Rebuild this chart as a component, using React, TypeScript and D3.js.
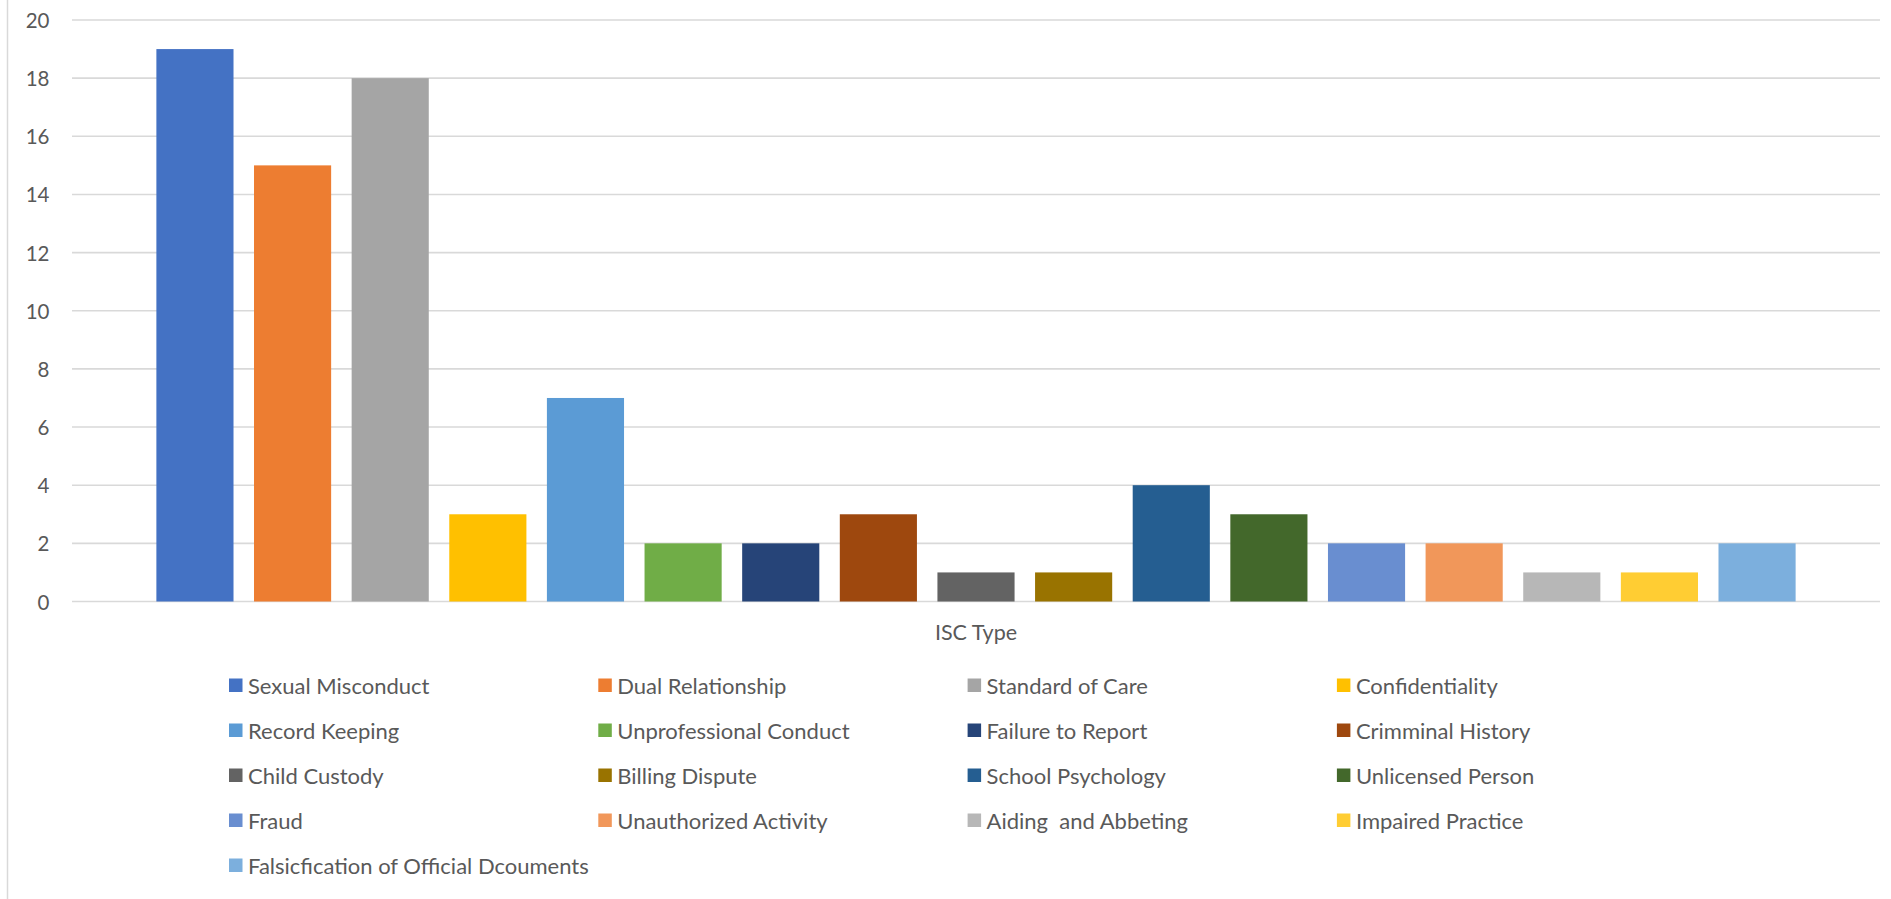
import React from "react";
import * as d3 from "d3";

const categories = ["ISC Type"];
const seriesNames = [
  "Sexual Misconduct",
  "Dual Relationship",
  "Standard of Care",
  "Confidentiality",
  "Record Keeping",
  "Unprofessional Conduct",
  "Failure to Report",
  "Crimminal History",
  "Child Custody",
  "Billing Dispute",
  "School Psychology",
  "Unlicensed Person",
  "Fraud",
  "Unauthorized Activity",
  "Aiding  and Abbeting",
  "Impaired Practice",
  "Falsicfication of Official Dcouments",
];
const seriesValues = [19, 15, 18, 3, 7, 2, 2, 3, 1, 1, 4, 3, 2, 2, 1, 1, 2];
const seriesColors = [
  "#4472C4", "#ED7D31", "#A5A5A5", "#FFC000", "#5B9BD5", "#70AD47",
  "#264478", "#9E480E", "#636363", "#997300", "#255E91", "#43682B",
  "#698ED0", "#F1975A", "#B7B7B7", "#FFCD33", "#7CAFDD",
];
const yTicks = [0, 2, 4, 6, 8, 10, 12, 14, 16, 18, 20];

const W = 1891;
const H = 899;
const plotLeft = 72;
const plotRight = 1880;
const plotTop = 20;
const plotBottom = 601.5;
const FONT = "Lato, Calibri, 'Open Sans', sans-serif";
const TEXT = "#595959";

export default function App() {
  const y = d3.scaleLinear().domain([0, 20]).range([plotBottom, plotTop]);
  const x0 = d3
    .scaleBand<string>()
    .domain(categories)
    .range([plotLeft, plotRight])
    .paddingInner(0.082)
    .paddingOuter(0.041);
  const cat = categories[0];
  const gStart = x0(cat) as number;
  const x1 = d3
    .scaleBand<string>()
    .domain(seriesNames)
    .range([gStart, gStart + x0.bandwidth()])
    .paddingInner(0.21)
    .paddingOuter(0.105);

  const legendX0 = 229;
  const legendColStep = 369.3;
  const legendY0 = 685;
  const legendRowStep = 45;

  return (
    <svg
      width={W}
      height={H}
      style={{ position: "absolute", left: 0, top: 0, background: "#fff" }}
    >
      <rect x={0} y={0} width={W} height={H} fill="#fff" />
      <line x1={7.5} x2={7.5} y1={0} y2={H} stroke="#d9d9d9" strokeWidth={1.5} />
      {yTicks.map((t) => (
        <g key={t}>
          <line
            x1={plotLeft}
            x2={plotRight}
            y1={y(t)}
            y2={y(t)}
            stroke="#d9d9d9"
            strokeWidth={1.6}
          />
          <text
            x={49.5}
            y={y(t)}
            textAnchor="end"
            dominantBaseline="central"
            fontFamily={FONT}
            fontSize={20.5}
            fill={TEXT}
          >
            {t}
          </text>
        </g>
      ))}
      {seriesNames.map((s, i) => (
        <rect
          key={s}
          x={x1(s)}
          y={y(seriesValues[i])}
          width={x1.bandwidth()}
          height={y(0) - y(seriesValues[i])}
          fill={seriesColors[i]}
        />
      ))}
      <text
        x={(x0(cat) as number) + x0.bandwidth() / 2}
        y={632}
        textAnchor="middle"
        dominantBaseline="central"
        fontFamily={FONT}
        fontSize={21.5}
        fill={TEXT}
      >
        {cat}
      </text>
      {seriesNames.map((s, i) => {
        const col = i % 4;
        const row = Math.floor(i / 4);
        const lx = legendX0 + col * legendColStep;
        const ly = legendY0 + row * legendRowStep;
        return (
          <g key={"lg" + s}>
            <rect x={lx} y={ly - 6.5} width={13.5} height={13.5} fill={seriesColors[i]} />
            <text
              x={lx + 19}
              y={ly}
              dominantBaseline="central"
              fontFamily={FONT}
              fontSize={22}
              fill={TEXT}
              style={{ whiteSpace: "pre" }}
            >
              {s}
            </text>
          </g>
        );
      })}
    </svg>
  );
}
